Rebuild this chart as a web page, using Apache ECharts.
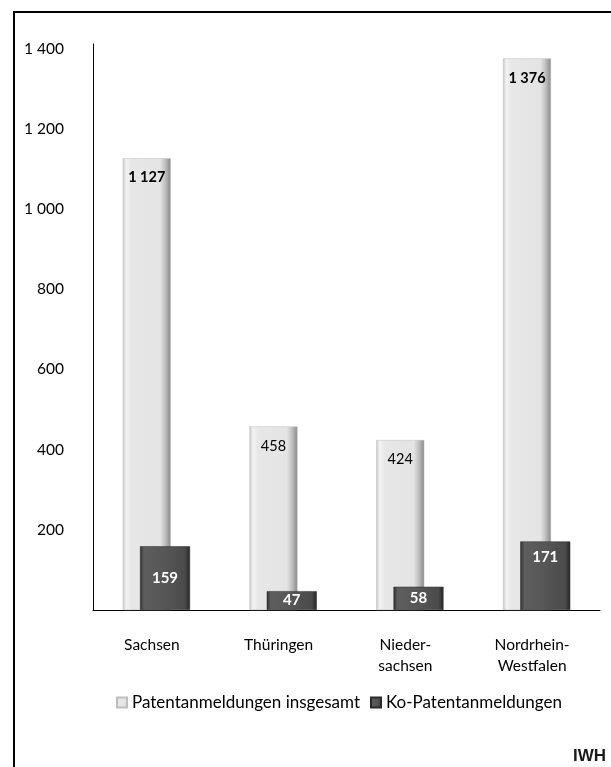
<!DOCTYPE html>
<html>
<head>
<meta charset="utf-8">
<script src="https://cdn.jsdelivr.net/npm/echarts@6/dist/echarts.min.js"></script>
<style>
  html, body { margin: 0; padding: 0; background: #fff; }
  #chart { width: 611px; height: 767px; }
</style>
</head>
<body>
<div id="chart"></div>
<script>
// Patent applications per federal state
const categories = ['Sachsen', 'Thüringen', 'Nieder-\nsachsen', 'Nordrhein-\nWestfalen'];
const totalApplications = [1127, 458, 424, 1376];
const coApplications = [159, 47, 58, 171];
const seriesNames = ['Patentanmeldungen insgesamt', 'Ko-Patentanmeldungen'];
const yTicks = [200, 400, 600, 800, 1000, 1200, 1400];

const FONT = 'Lato, "Open Sans", sans-serif';

function fmt(v) {
  return String(v).replace(/\B(?=(\d{3})+(?!\d))/g, ' ');
}

const lightFill = new echarts.graphic.LinearGradient(0, 0, 1, 0, [
  { offset: 0, color: '#c8c8c8' },
  { offset: 0.07, color: '#f2f2f2' },
  { offset: 0.18, color: '#e7e7e7' },
  { offset: 0.78, color: '#e4e4e4' },
  { offset: 0.88, color: '#c2c2c2' },
  { offset: 1, color: '#888888' }
]);
const darkFill = new echarts.graphic.LinearGradient(0, 0, 1, 0, [
  { offset: 0, color: '#2e2e2e' },
  { offset: 0.08, color: '#5e5e5e' },
  { offset: 0.5, color: '#565656' },
  { offset: 0.9, color: '#4a4a4a' },
  { offset: 1, color: '#262626' }
]);

const chart = echarts.init(document.getElementById('chart'), null, { renderer: 'canvas' });

const option = {
  backgroundColor: '#ffffff',
  animation: false,
  textStyle: { fontFamily: FONT },
  graphic: [
    {
      type: 'rect',
      shape: { x: 14, y: 12, width: 700, height: 800 },
      style: { fill: 'none', stroke: '#000', lineWidth: 2 },
      silent: true
    },
    {
      type: 'text',
      right: 5,
      top: 748,
      style: { text: 'IWH', font: 'bold 17px "Liberation Sans", Arial, sans-serif', fill: '#1a1a1a' }
    }
  ],
  legend: {
    top: 689,
    left: 111,
    itemWidth: 10,
    itemHeight: 10,
    itemGap: 10,
    textStyle: { fontSize: 17, color: '#000', fontFamily: FONT },
    data: [
      { name: seriesNames[0], icon: 'rect' },
      { name: seriesNames[1], icon: 'rect' }
    ]
  },
  grid: { left: 93, right: 11, top: 44, bottom: 157, containLabel: false },
  xAxis: {
    type: 'category',
    data: categories,
    axisLine: { lineStyle: { color: '#000', width: 1 } },
    axisTick: { show: false },
    axisLabel: {
      color: '#000',
      fontSize: 15.5,
      lineHeight: 21,
      margin: 24,
      align: 'center',
      padding: [0, 9, 0, 0]
    }
  },
  yAxis: {
    type: 'value',
    min: 0,
    max: 1412,
    interval: 200,
    splitLine: { show: false },
    axisLine: { show: true, lineStyle: { color: '#000', width: 1 } },
    axisTick: { show: false },
    axisLabel: {
      color: '#000',
      fontSize: 15.5,
      margin: 29,
      formatter: function (v) { return yTicks.indexOf(v) >= 0 ? fmt(v) : ''; }
    }
  },
  series: [
    {
      name: seriesNames[0],
      type: 'bar',
      barWidth: 48,
      barGap: '-64%',
      data: totalApplications.map(function (v) {
        return {
          value: v,
          label: { fontWeight: v >= 1000 ? 'bold' : 'normal' }
        };
      }),
      itemStyle: { color: lightFill, borderColor: '#bdbdbd', borderWidth: 0.5 },
      label: {
        show: true,
        position: 'insideTop',
        distance: 12,
        color: '#000',
        fontSize: 14.5,
        fontFamily: FONT,
        formatter: function (p) { return fmt(p.value); }
      },
      z: 2
    },
    {
      name: seriesNames[1],
      type: 'bar',
      barWidth: 50,
      data: coApplications.map(function (v, i) {
        // the tallest small bar carries its label near the top
        return i === coApplications.indexOf(Math.max.apply(null, coApplications))
          ? { value: v, label: { position: 'insideTop', distance: 8 } }
          : { value: v };
      }),
      itemStyle: { color: darkFill, borderColor: '#2a2a2a', borderWidth: 0.5 },
      label: {
        show: true,
        position: 'inside',
        color: '#ffffff',
        fontWeight: 'bold',
        fontSize: 15,
        fontFamily: FONT,
        formatter: function (p) { return fmt(p.value); }
      },
      z: 3
    }
  ]
};

chart.setOption(option);
</script>
</body>
</html>
